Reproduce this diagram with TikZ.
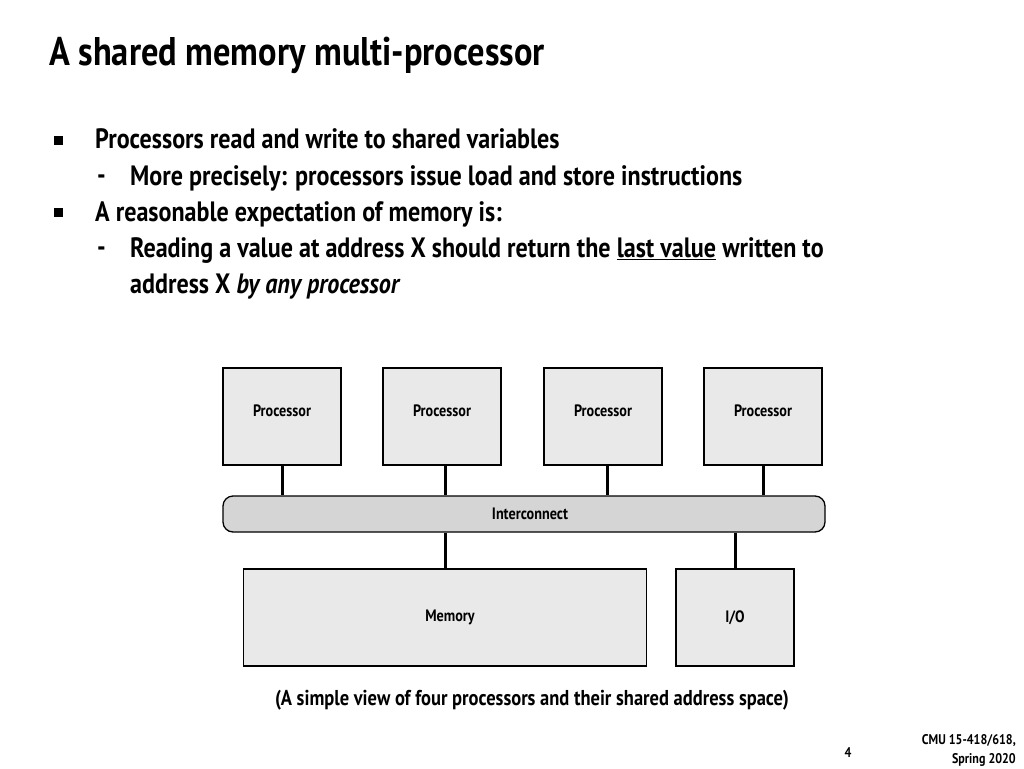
\documentclass[tikz,border=0pt]{standalone}
\usepackage{fontspec}
\setmainfont{PT Sans}[FakeStretch=0.86]
\begin{document}
\begin{tikzpicture}[x=1pt,y=-1pt]
\tikzset{box style/.style={shape=rectangle,draw=black,line width=1.3pt,fill=gray!17,font=\fontsize{16.5}{18}\selectfont\bfseries},
         bus style/.style={shape=rectangle,draw=black,line width=1.3pt,fill=gray!33,rounded corners=10pt,font=\fontsize{16.5}{18}\selectfont\bfseries},
         proc style/.style={box style,minimum width=118pt,minimum height=97pt,label={[font=\fontsize{16.5}{18}\selectfont\bfseries,yshift=6pt]center:Processor}},
         link style/.style={line width=3pt},
         text style/.style={anchor=base west,inner sep=0pt,font=\fontsize{28}{32}\selectfont\bfseries}}
\useasboundingbox (0,0) rectangle (1024,768);

\node[anchor=base west,inner sep=0pt,font=\fontsize{40}{46}\selectfont\bfseries] at (49,66) (title) {A shared memory multi-processor};

% bullets
\fill (54,136) rectangle (63,145);
\fill (54,208) rectangle (63,217);
\node[text style] at (97,184) (d1) {-};
\node[text style] at (97,256) (d2) {-};
\node[text style] at (95,148) (b1) {Processors read and write to shared variables};
\node[text style] at (130,185) (b2) {More precisely: processors issue load and store instructions};
\node[text style] at (95,221) (b3) {A reasonable expectation of memory is:};
\node[text style] at (130,257) (b4) {Reading a value at address X should return the \underline{last value} written to};
\node[text style] at (130,293) (b5) {address X \textit{by any processor}};

% diagram
\node[proc style] at (282,416.5) (p1) {};
\node[proc style] at (442,416.5) (p2) {};
\node[proc style] at (603,416.5) (p3) {};
\node[proc style] at (763,416.5) (p4) {};

\node[bus style, minimum width=602pt, minimum height=36pt] at (524,514) (ic) {\hspace{12pt}Interconnect};

\node[box style, minimum width=403pt, minimum height=97pt] at (445,617.5) (mem) {\hspace{10pt}\raisebox{3pt}{Memory}};
\node[box style, minimum width=118pt, minimum height=97pt] at (735,617.5) (io) {I/O};

\draw[link style] (p1.south) -- (p1.south |- ic.north);
\draw[link style] ([xshift=3pt]p2.south) -- ([xshift=3pt]p2.south |- ic.north);
\draw[link style] ([xshift=4pt]p3.south) -- ([xshift=4pt]p3.south |- ic.north);
\draw[link style] (p4.south) -- (p4.south |- ic.north);
\draw[link style] (mem.north) -- (mem.north |- ic.south);
\draw[link style] (io.north) -- (io.north |- ic.south);

\node[font=\fontsize{21.5}{26}\selectfont\bfseries] at (532,700) (caption) {(A simple view of four processors and their shared address space)};

\node[font=\fontsize{14}{16}\selectfont\bfseries] at (848,753) (page) {4};
\node[anchor=north east,align=right,inner sep=0pt,font=\fontsize{14}{19}\selectfont\bfseries] at (1016,734) (course) {CMU 15-418/618,\\Spring 2020};
\end{tikzpicture}
\end{document}
